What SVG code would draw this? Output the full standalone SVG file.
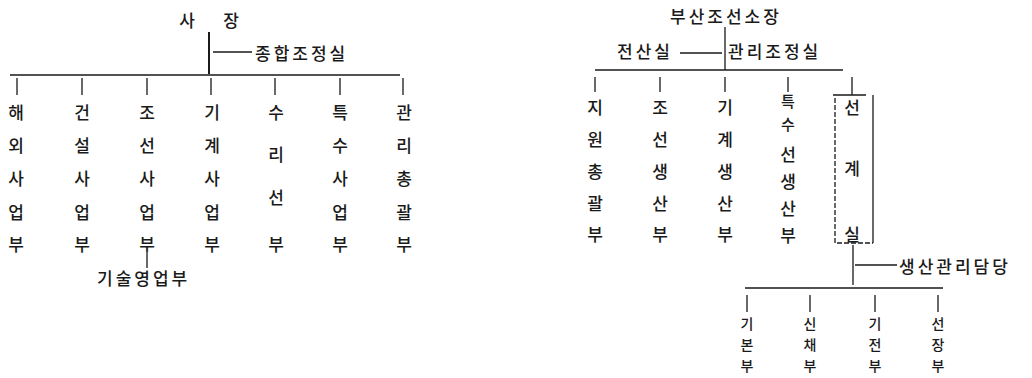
<svg xmlns="http://www.w3.org/2000/svg" width="1032" height="378" viewBox="0 0 1032 378">
<style>
text{font-family:"Noto Sans CJK KR","Noto Sans",sans-serif;font-size:17px;fill:#1a1a1a;font-weight:500}
.c{text-anchor:middle;dominant-baseline:central}
.h{dominant-baseline:central;letter-spacing:3px}
.s{font-size:15px}
.xs{font-size:14px}
.ln{stroke:#1a1a1a;stroke-width:1.3;fill:none}
.bold{stroke-width:2}
.dash{stroke-dasharray:5 2}
</style>
<rect width="1032" height="378" fill="#fff"/>
<g id="connectors">
<path class="ln bold" d="M209 32V74"/>
<path class="ln" d="M213 52H252M10 75H400M17 78V95M82 78V95M147 78V95M211 78V95M275 78V95M340 78V95M403 78V95M147 253V268"/>
<path class="ln" d="M725 27V70M680 53H722M595 70H843M595 77V92M660 77V92M725 77V92M788 77V92M852 77V95M833 95H866M873 95V243"/>
<path class="ln dash" d="M835 98V243H873"/>
<path class="ln" d="M853 245V285M855 265H897M745 288H943M747 295V312M810 295V312M875 295V312M938 295V312"/>
</g>
<g id="n-sajang"><text class="c" x="187" y="19">사</text><text class="c" x="231" y="19">장</text></g>
<g id="n-jonghap"><text class="h" x="255" y="52">종합조정실</text></g>
<g id="n-haeoe"><text class="c" x="16" y="111">해</text><text class="c" x="16" y="144">외</text><text class="c" x="16" y="177">사</text><text class="c" x="16" y="211">업</text><text class="c" x="16" y="243">부</text></g>
<g id="n-geonseol"><text class="c" x="82" y="111">건</text><text class="c" x="82" y="144">설</text><text class="c" x="82" y="177">사</text><text class="c" x="82" y="211">업</text><text class="c" x="82" y="243">부</text></g>
<g id="n-joseon"><text class="c" x="147" y="111">조</text><text class="c" x="147" y="144">선</text><text class="c" x="147" y="177">사</text><text class="c" x="147" y="211">업</text><text class="c" x="147" y="243">부</text></g>
<g id="n-gigye"><text class="c" x="212" y="111">기</text><text class="c" x="212" y="144">계</text><text class="c" x="212" y="177">사</text><text class="c" x="212" y="211">업</text><text class="c" x="212" y="243">부</text></g>
<g id="n-suriseon"><text class="c" x="276" y="111">수</text><text class="c" x="276" y="153">리</text><text class="c" x="276" y="196">선</text><text class="c" x="276" y="243">부</text></g>
<g id="n-teuksu"><text class="c" x="340" y="111">특</text><text class="c" x="340" y="144">수</text><text class="c" x="340" y="177">사</text><text class="c" x="340" y="211">업</text><text class="c" x="340" y="243">부</text></g>
<g id="n-gwanri"><text class="c" x="404" y="111">관</text><text class="c" x="404" y="144">리</text><text class="c" x="404" y="177">총</text><text class="c" x="404" y="211">괄</text><text class="c" x="404" y="243">부</text></g>
<g id="n-gisul"><text class="h" x="97" y="277">기술영업부</text></g>
<g id="n-busan"><text class="h" x="670" y="15">부산조선소장</text></g>
<g id="n-jeonsan"><text class="h" x="617" y="50">전산실</text></g>
<g id="n-gwanrijojeong"><text class="h" x="728" y="50">관리조정실</text></g>
<g id="n-jiwon"><text class="c" x="595" y="106">지</text><text class="c" x="595" y="138">원</text><text class="c" x="595" y="170">총</text><text class="c" x="595" y="202">괄</text><text class="c" x="595" y="233">부</text></g>
<g id="n-joseonsaengsan"><text class="c" x="660" y="106">조</text><text class="c" x="660" y="138">선</text><text class="c" x="660" y="170">생</text><text class="c" x="660" y="202">산</text><text class="c" x="660" y="233">부</text></g>
<g id="n-gigyesaengsan"><text class="c" x="725" y="106">기</text><text class="c" x="725" y="138">계</text><text class="c" x="725" y="170">생</text><text class="c" x="725" y="202">산</text><text class="c" x="725" y="233">부</text></g>
<g id="n-teuksuseon"><text class="c s" x="788" y="100">특</text><text class="c s" x="788" y="123">수</text><text class="c" x="788" y="153">선</text><text class="c" x="788" y="180">생</text><text class="c" x="788" y="207">산</text><text class="c" x="788" y="234">부</text></g>
<g id="n-seolgye"><text class="c" x="852" y="106">선</text><text class="c" x="852" y="167">계</text><text class="c" x="852" y="233">실</text></g>
<g id="n-saengsangwanri"><text class="h" x="899" y="265">생산관리담당</text></g>
<g id="n-gibon"><text class="c xs" x="747" y="323">기</text><text class="c xs" x="747" y="344">본</text><text class="c xs" x="747" y="365">부</text></g>
<g id="n-sinchae"><text class="c xs" x="810" y="323">신</text><text class="c xs" x="810" y="344">채</text><text class="c xs" x="810" y="365">부</text></g>
<g id="n-gijeon"><text class="c xs" x="875" y="323">기</text><text class="c xs" x="875" y="344">전</text><text class="c xs" x="875" y="365">부</text></g>
<g id="n-seonjang"><text class="c xs" x="938" y="323">선</text><text class="c xs" x="938" y="344">장</text><text class="c xs" x="938" y="365">부</text></g>
</svg>
